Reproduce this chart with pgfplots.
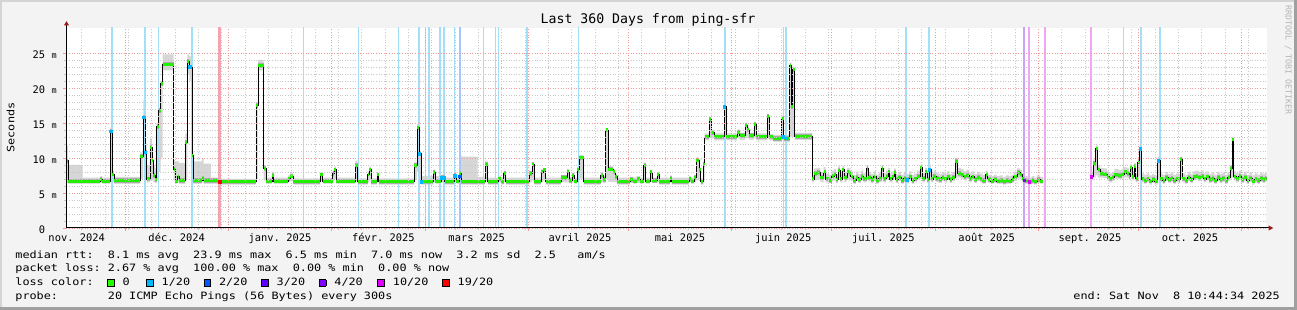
\documentclass[border=0pt]{standalone}
\usepackage{fontspec}
\setmainfont{DejaVu Sans Mono}
\newfontfamily\legfont[FakeStretch=1.17]{DejaVu Sans Mono}
\usepackage{pgfplots}
\usepackage{pgfplotstable}
\pgfplotsset{compat=1.18}

\definecolor{bg}{HTML}{F3F3F3}
\definecolor{edgelight}{HTML}{D4D4D4}
\definecolor{edgedark}{HTML}{A0A0A0}
\definecolor{gridminor}{HTML}{C8C8C8}
\definecolor{gridmajor}{HTML}{F09A9A}
\definecolor{arrowred}{HTML}{A01C1C}
\definecolor{smoke}{HTML}{D6D6D6}
\definecolor{halo}{HTML}{ABABAB}
\definecolor{medgreen}{HTML}{22F000}
\definecolor{l0}{HTML}{26FF00}
\definecolor{l1}{HTML}{00B8FF}
\definecolor{l2}{HTML}{0059FF}
\definecolor{l3}{HTML}{5E00FF}
\definecolor{l4}{HTML}{7E00FF}
\definecolor{l10}{HTML}{DD00FF}
\definecolor{l19}{HTML}{FF0000}
\definecolor{bar1}{HTML}{A3DFF7}
\definecolor{bar2}{HTML}{A8C4FF}
\definecolor{bar4}{HTML}{C6A6F4}
\definecolor{bar10}{HTML}{F1A6F4}
\definecolor{bar19}{HTML}{F4A3B0}
\definecolor{wm}{HTML}{B5B5B5}

\newcommand\legsz{\legfont\fontsize{10.1}{12}\selectfont}
\newcommand\ticksz{\fontsize{10.4}{12}\selectfont}
\newcommand\yl[2]{\makebox[14pt][r]{#1}\makebox[11.7pt][r]{\fontsize{8.5}{9}\selectfont #2}}
\newcommand\lbox[1]{{\setlength\fboxsep{0pt}\setlength\fboxrule{0.9pt}\fcolorbox{black}{#1}{\rule{0pt}{5.7pt}\rule{5.7pt}{0pt}}}}

% x = days from 1 Dec 2024, columns: median, smoke low, smoke high (ms)
\pgfplotstableread{
x med lo hi
-17.55 9.6 6.4 11.8
-17.1 6.7 6.3 9.0
-12.7 6.7 6.3 7.2
-7.4 6.9 6.4 7.4
-6.8 6.7 6.3 7.2
-4.4 13.8 6.6 14.3
-3.9 7.7 6.5 8.2
-3.3 6.8 6.3 7.3
4.6 10.2 7.0 10.8
5.5 15.8 10.0 18.3
6.0 10.8 7.0 12.0
6.5 7.0 6.5 9.0
7.5 11.5 6.8 12.8
8.1 9.7 6.8 10.5
8.5 7.5 6.5 9.0
9.0 6.9 6.4 8.5
9.5 14.5 7.0 15.0
10.1 16.8 8.0 17.2
10.7 20.6 10.0 21.0
11.3 23.4 22.5 24.8
14.6 8.4 6.8 9.7
15.0 6.7 6.3 9.5
15.8 7.3 6.5 9.5
16.2 6.8 6.3 9.3
18.1 12.2 6.8 13.5
18.7 23.8 22.0 24.8
19.3 23.0 21.0 24.5
20.1 10.4 7.0 11.0
20.5 6.8 6.3 9.5
23.1 7.1 6.5 9.9
23.6 6.8 6.3 9.2
25.8 6.8 6.3 7.2
27.8 6.6 6.2 7.0
39.3 17.5 7.0 18.0
39.9 23.2 22.5 24.0
41.6 8.5 6.8 9.0
42.3 6.7 6.3 7.2
44.2 7.5 6.5 8.0
44.6 6.7 6.3 7.2
48.9 7.0 6.5 7.5
49.5 7.4 6.7 7.8
50.5 6.6 6.2 7.1
58.6 7.6 6.7 8.0
59.3 6.7 6.3 7.2
62.3 7.8 6.7 8.2
62.8 8.3 7.0 8.8
63.3 6.7 6.3 7.2
69.1 8.9 6.8 9.6
69.8 6.6 6.2 7.1
72.8 7.7 6.6 8.1
73.3 8.3 6.8 8.8
73.8 6.6 6.2 7.1
75.6 7.6 6.6 8.0
76.1 6.6 6.2 7.1
86.8 8.9 6.8 9.4
87.6 14.3 8.0 14.8
88.2 10.6 7.0 11.0
88.8 6.6 6.2 7.4
92.5 7.9 6.6 8.3
93.1 6.7 6.3 7.4
94.8 7.2 6.5 7.6
95.9 6.6 6.2 7.2
98.8 7.5 6.6 8.0
99.4 6.7 6.3 7.5
100.3 7.8 6.6 10.4
100.9 6.6 6.2 10.2
105.8 6.6 6.2 7.3
108.0 9.1 6.8 9.5
108.8 6.6 6.2 7.2
112.0 7.0 6.5 7.4
112.8 6.6 6.2 7.2
113.6 7.8 6.6 8.1
114.2 6.6 6.2 7.2
121.3 7.8 6.6 8.1
122.2 9.1 6.8 9.4
122.8 6.6 6.2 7.2
124.8 8.0 6.6 8.4
125.5 8.3 6.8 8.6
126.2 6.6 6.2 7.2
130.8 7.2 6.5 7.6
132.6 8.0 6.6 8.4
133.2 6.8 6.4 7.3
134.2 7.5 6.5 7.9
134.8 6.7 6.3 7.2
135.6 8.3 6.6 8.7
136.2 10.0 7.0 10.4
137.6 6.6 6.2 7.2
142.7 7.5 6.5 7.9
143.4 6.9 6.4 7.4
144.2 14.0 7.0 14.2
144.9 8.4 6.6 8.8
146.5 8.0 6.6 8.4
147.0 7.3 6.5 7.7
147.7 6.6 6.2 7.2
151.5 6.9 6.4 7.3
152.5 6.7 6.3 7.2
153.5 7.0 6.4 7.4
154.5 6.7 6.3 7.2
155.6 8.9 6.8 9.3
156.2 6.7 6.3 7.2
157.5 8.0 6.6 8.3
158.1 6.8 6.4 7.2
159.7 7.6 6.5 8.0
160.3 6.6 6.2 7.2
163.5 7.1 6.5 7.5
164.0 6.6 6.2 7.2
169.2 7.0 6.5 7.4
169.8 6.7 6.3 7.2
170.8 7.2 6.5 7.6
171.3 9.7 6.8 10.1
172.2 8.3 6.7 8.7
172.7 6.6 6.2 7.1
173.5 9.1 6.8 9.5
173.9 13.0 12.5 13.5
175.2 15.5 12.8 15.8
175.9 13.6 12.8 14.0
176.7 13.0 12.5 13.5
179.7 17.3 12.8 19.5
180.3 13.0 12.5 13.5
183.6 13.7 12.8 14.1
184.4 13.2 12.6 13.6
186.1 14.7 12.8 15.0
186.7 14.0 12.8 14.4
187.2 13.2 12.6 13.6
188.7 14.8 12.8 15.1
189.3 13.0 12.5 13.5
192.7 15.9 12.8 16.2
193.3 13.0 12.5 13.4
194.5 12.8 12.3 13.3
197.0 15.7 12.6 16.0
197.6 12.8 12.3 13.3
199.4 23.2 13.0 23.6
199.9 17.3 13.0 17.8
200.3 22.6 13.0 23.0
200.9 13.1 12.6 13.6
206.2 7.0 6.5 7.6
206.7 7.8 6.8 8.5
207.7 7.9 6.9 8.6
208.6 7.2 6.6 8.0
209.6 8.0 7.0 8.7
210.2 7.0 6.5 7.8
211.2 6.8 6.4 7.6
212.0 7.4 6.7 8.2
212.7 7.7 6.8 8.4
213.3 6.9 6.4 7.7
213.9 8.2 7.0 8.8
214.5 7.0 6.5 7.8
215.2 8.3 7.0 8.9
215.8 7.2 6.6 8.0
216.6 8.0 6.9 8.6
217.2 7.8 6.8 8.5
217.7 7.3 6.8 8.1
218.4 6.8 6.3 7.6
219.3 7.2 6.7 8.0
220.0 6.9 6.4 7.7
220.8 7.4 6.9 8.2
221.5 7.0 6.5 7.8
222.5 8.5 7.0 9.0
223.0 7.2 6.7 8.0
223.8 6.9 6.4 7.7
224.6 7.3 6.8 8.1
225.3 6.8 6.3 7.6
226.1 7.1 6.6 7.9
227.0 8.5 7.0 9.0
227.5 7.0 6.5 7.8
228.3 7.4 6.9 8.2
228.9 8.0 7.0 8.6
229.4 7.0 6.5 7.8
230.2 7.3 6.8 8.1
230.7 7.9 7.0 8.5
231.2 6.9 6.4 7.7
232.0 7.2 6.7 8.0
232.8 6.8 6.3 7.6
233.6 7.1 6.6 7.9
234.4 6.9 6.4 7.7
235.2 7.3 6.8 8.1
236.0 6.8 6.3 7.6
236.8 7.0 6.5 7.8
237.6 7.4 6.9 8.2
238.6 8.6 7.0 9.1
239.2 7.1 6.6 7.9
240.0 8.0 7.0 8.6
240.6 6.9 6.4 7.7
241.2 8.3 7.0 8.8
241.8 7.0 6.5 7.8
242.5 7.4 6.9 8.2
243.3 7.1 6.6 7.9
244.1 6.9 6.4 7.7
245.0 7.2 6.7 8.0
245.8 7.0 6.5 7.8
246.6 7.3 6.8 8.1
247.4 6.9 6.4 7.7
248.2 7.2 6.7 8.0
249.0 9.5 7.2 10.0
249.8 7.8 7.2 8.6
250.8 7.6 7.0 8.4
251.6 7.3 6.8 8.1
252.4 7.5 7.0 8.3
253.2 7.0 6.5 7.8
254.0 7.3 6.8 8.1
254.8 6.9 6.4 7.7
255.6 7.2 6.7 8.0
256.4 7.0 6.5 7.8
257.2 6.8 6.3 7.6
258.2 7.6 6.8 8.2
258.8 6.9 6.4 7.6
259.7 6.7 6.3 7.4
260.6 6.9 6.4 7.6
261.5 6.7 6.3 7.4
262.4 6.8 6.3 7.5
263.3 6.6 6.2 7.3
264.2 6.8 6.3 7.5
265.1 6.7 6.3 7.4
266.0 6.9 6.4 7.6
266.6 7.3 6.7 8.0
267.6 7.9 7.0 8.5
268.5 7.6 6.9 8.3
269.2 7.0 6.5 7.7
269.6 6.8 6.3 7.4
270.7 6.7 6.3 7.3
271.2 6.6 6.2 7.2
272.0 6.8 6.3 7.4
272.8 6.6 6.2 7.2
273.6 6.9 6.4 7.5
274.5 6.7 6.3 7.3
275.5 6.7 6.3 7.3
}\segA

\pgfplotstableread{
x med lo hi
289.7 7.3 6.8 8.1
290.5 9.2 7.2 9.8
291.2 11.3 7.5 11.8
291.8 8.3 7.2 9.0
292.5 7.8 7.2 8.6
293.5 7.7 7.1 8.5
294.6 7.3 6.8 8.1
295.2 7.0 6.5 7.8
296.2 7.2 6.7 8.0
296.8 7.6 7.0 8.4
298.0 7.5 7.0 8.3
299.2 7.7 7.1 8.5
299.7 8.0 7.2 8.7
300.5 7.8 7.2 8.6
301.2 7.3 6.8 8.1
301.6 8.6 7.2 9.1
302.2 7.3 6.8 8.1
302.8 8.8 7.2 9.3
303.2 7.0 6.5 7.8
303.8 9.4 7.2 9.9
304.4 11.3 7.5 11.9
305.0 7.0 6.5 7.8
305.7 6.8 6.3 7.6
306.5 7.0 6.5 7.8
307.3 6.7 6.2 7.5
308.1 6.9 6.4 7.7
308.9 6.7 6.2 7.5
309.8 9.6 7.0 10.2
310.5 7.0 6.5 7.8
311.3 6.8 6.3 7.6
312.1 7.2 6.7 8.0
312.9 6.9 6.4 7.7
313.7 7.1 6.6 7.9
314.5 6.8 6.3 7.6
315.3 7.0 6.5 7.8
316.1 6.9 6.4 7.7
316.6 9.8 7.0 10.2
317.2 7.0 6.5 7.8
318.0 6.8 6.3 7.6
318.8 7.2 6.7 8.0
319.6 6.9 6.4 7.7
320.4 7.3 6.8 8.1
321.2 7.4 6.9 8.2
322.0 7.2 6.7 8.0
322.8 7.4 6.9 8.2
323.6 7.0 6.5 7.8
324.4 7.3 6.8 8.1
325.2 6.9 6.4 7.7
326.0 7.1 6.6 7.9
326.8 6.8 6.3 7.6
327.6 7.2 6.7 8.0
328.4 6.9 6.4 7.7
329.2 7.1 6.6 7.9
330.0 6.8 6.3 7.6
330.8 7.2 6.7 8.0
331.6 8.5 7.0 9.0
332.1 12.6 7.2 13.0
332.6 7.3 6.8 8.1
333.3 7.0 6.5 7.8
334.1 7.4 6.9 8.2
334.9 6.9 6.4 7.7
335.7 7.2 6.7 8.0
336.5 6.8 6.3 7.6
337.3 7.1 6.6 7.9
338.1 6.7 6.2 7.5
338.9 7.0 6.5 7.8
339.7 6.8 6.3 7.6
340.5 7.1 6.6 7.9
341.3 6.9 6.4 7.7
342.0 7.1 6.6 7.9
342.45 7.1 6.6 7.9
}\segB

\begin{document}
\frenchspacing
\begin{tikzpicture}
% frame
\fill[bg] (-66.5pt,-82pt) rectangle (1230.5pt,228pt);
\fill[edgelight] (-66.5pt,225.5pt) rectangle (1230.5pt,228pt);
\fill[edgelight] (-66.5pt,-82pt) rectangle (-64.5pt,228pt);
\fill[edgedark] (1227.5pt,-82pt) rectangle (1230.5pt,228pt);
\fill[edgedark] (-66.5pt,-82pt) rectangle (1230.5pt,-79pt);

\begin{axis}[
  scale only axis, width=1200pt, height=200pt,
  at={(0pt,0pt)}, anchor=south west,
  xmin=-17.55, xmax=342.45, ymin=0, ymax=28.571,
  axis lines=left, axis line style={-, black, line width=1pt},
  axis on top,
  axis background/.style={fill=white},
  xtick={0,31,62,90,121,151,182,212,243,274,304,335},
  xticklabels={},
  minor xtick={-13,-6,...,337},
  ytick={0,5,...,25},
  minor y tick num=4,
  grid=both,
  major grid style={gridmajor, line width=0.7pt, dash pattern=on 1pt off 1.6pt},
  minor grid style={gridminor, line width=0.6pt, dash pattern=on 1pt off 1.6pt},
  tick align=outside,
  major tick length=3pt, minor tick length=2pt,
  every major tick/.append style={gridmajor, line width=0.8pt},
  every minor tick/.append style={gridminor, line width=0.8pt},
  extra x ticks={-14.5,15.5,46.5,77.5,105.5,136.5,166.5,197.5,227.5,258.5,289.5,319.5},
  extra x tick labels={nov. 2024,déc. 2024,janv. 2025,févr. 2025,mars 2025,avril 2025,mai 2025,juin 2025,juil. 2025,août 2025,sept. 2025,oct. 2025},
  extra x tick style={grid=none, major tick length=0pt, tick style={draw=none}},
  x tick label style={font=\ticksz, anchor=base, inner sep=0pt, yshift=-13.7pt},
  yticklabels={{\yl{0}{}},{\yl{5}{m}},{\yl{10}{m}},{\yl{15}{m}},{\yl{20}{m}},{\yl{25}{m}}},
  y tick label style={font=\ticksz, anchor=east, inner sep=0pt, xshift=-6.5pt, yshift=-1.5pt},
]
% smoke: upper percentile area, then lower percentile cut back to white
\addplot[fill=smoke, draw=none, const plot, mark=none] table[x=x,y=hi]{\segA} \closedcycle;
\addplot[fill=smoke, draw=none, const plot, mark=none] table[x=x,y=hi]{\segB} \closedcycle;
\addplot[fill=white, draw=none, const plot, mark=none] table[x=x,y=lo]{\segA} \closedcycle;
\addplot[fill=white, draw=none, const plot, mark=none] table[x=x,y=lo]{\segB} \closedcycle;

% loss bars
\addplot[ycomb, bar1, line width=1pt, mark=none] coordinates {(10.0,29) (53.6,29) (70.1,29) (82.1,29) (90.0,29) (98.8,29) (107.5,29) (111.0,29) (112.0,29) (135.9,29) (197.4,29) (299.4,29)};
\addplot[ycomb, bar1, line width=2pt, mark=none] coordinates {(-4.0,29) (6.0,29) (20.1,29) (88.3,29) (91.2,29) (94.6,29) (95.6,29) (120.5,29) (179.9,29) (198.4,29) (234.4,29) (241.1,29) (304.9,29) (310.4,29)};
\addplot[ycomb, bar2, line width=2pt, mark=none] coordinates {(100.5,29)};
\addplot[ycomb, bar19, line width=3pt, mark=none] coordinates {(28.5,29)};
\addplot[ycomb, bar4, line width=2pt, mark=none] coordinates {(269.7,29)};
\addplot[ycomb, bar10, line width=2pt, mark=none] coordinates {(271.2,29) (275.9,29) (289.9,29)};

% median
\addplot[halo, line width=4.5pt, jump mark left, mark=none] table[x=x,y=med]{\segA};
\addplot[halo, line width=4.5pt, jump mark left, mark=none] table[x=x,y=med]{\segB};
\addplot[black, line width=0.9pt, const plot, mark=none] table[x=x,y=med]{\segA};
\addplot[black, line width=0.9pt, const plot, mark=none] table[x=x,y=med]{\segB};
\addplot[medgreen, line width=3pt, jump mark left, mark=none] table[x=x,y=med]{\segA};
\addplot[medgreen, line width=3pt, jump mark left, mark=none] table[x=x,y=med]{\segB};

% loss-coloured median points
\addplot[only marks, mark=square*, mark size=1.3pt, l1] coordinates {(-4.2,13.8) (5.6,15.8) (6.1,10.8) (19.4,23.0) (88.3,10.6) (88.9,6.6) (94.9,7.2) (95.6,7.2) (98.9,7.5) (179.8,17.3) (197.3,13.0) (198.3,12.8) (234.5,6.9) (241.3,8.3) (304.5,11.3) (309.9,9.6)};
\addplot[only marks, mark=square*, mark size=1.3pt, l2] coordinates {(100.4,7.4)};
\addplot[only marks, mark=square*, mark size=1.3pt, l4] coordinates {(269.7,6.8)};
\addplot[only marks, mark=square*, mark size=1.3pt, l10] coordinates {(271.3,6.6) (289.8,7.3)};
\addplot[only marks, mark=square*, mark size=1.3pt, l19] coordinates {(28.4,6.6)};
\end{axis}

% axis arrows
\draw[black, line width=1pt] (1200pt,0pt) -- (1203pt,0pt);
\fill[arrowred] (1202.2pt,2.5pt) -- (1206.8pt,0pt) -- (1202.2pt,-2.5pt) -- cycle;
\draw[black, line width=1pt] (0pt,200pt) -- (0pt,203.5pt);
\fill[arrowred] (-2.5pt,202.7pt) -- (0pt,206.9pt) -- (2.5pt,202.7pt) -- cycle;

% title and labels
\node[anchor=base, inner sep=0pt, font=\fontsize{13.2}{15}\selectfont] at (581.5pt,204pt) {Last 360 Days from ping-sfr};
\node[rotate=90, inner sep=0pt, font=\legsz] at (-56pt,100.5pt) {Seconds};
\node[rotate=-90, inner sep=0pt, text=wm, font=\fontsize{8.3}{9}\selectfont] at (1221.8pt,168pt) {RRDTOOL / TOBI OETIKER};

% legend
\node[anchor=base west, inner sep=0pt, font=\legsz] at (-51.3pt,-30.3pt) {median~rtt:~~8.1~ms~avg~~23.9~ms~max~~6.5~ms~min~~7.0~ms~now~~3.2~ms~sd~~2.5~~~am/s};
\node[anchor=base west, inner sep=0pt, font=\legsz] at (-51.3pt,-44pt) {packet~loss:~2.67~\%~avg~~100.00~\%~max~~0.00~\%~min~~0.00~\%~now};
\node[anchor=base west, inner sep=0pt, font=\legsz] at (-51.3pt,-57.7pt) {loss~color:};
\node[anchor=base west, inner sep=0pt, font=\legsz] at (40.5pt,-57.7pt) {\lbox{l0}\hspace{8pt}0};
\node[anchor=base west, inner sep=0pt, font=\legsz] at (79.5pt,-57.7pt) {\lbox{l1}\hspace{8pt}1/20};
\node[anchor=base west, inner sep=0pt, font=\legsz] at (136.8pt,-57.7pt) {\lbox{l2}\hspace{8pt}2/20};
\node[anchor=base west, inner sep=0pt, font=\legsz] at (194.5pt,-57.7pt) {\lbox{l3}\hspace{8pt}3/20};
\node[anchor=base west, inner sep=0pt, font=\legsz] at (252.2pt,-57.7pt) {\lbox{l4}\hspace{8pt}4/20};
\node[anchor=base west, inner sep=0pt, font=\legsz] at (310.7pt,-57.7pt) {\lbox{l10}\hspace{8pt}10/20};
\node[anchor=base west, inner sep=0pt, font=\legsz] at (375.5pt,-57.7pt) {\lbox{l19}\hspace{8pt}19/20};
\node[anchor=base west, inner sep=0pt, font=\legsz] at (-51.3pt,-71.3pt) {probe:~~~~~~~20~ICMP~Echo~Pings~(56~Bytes)~every~300s};
\node[anchor=base east, inner sep=0pt, font=\legsz] at (1213.5pt,-71.3pt) {end:~Sat~Nov~~8~10:44:34~2025};

\pgfresetboundingbox
\path (-66.5pt,-82pt) rectangle (1230.5pt,228pt);
\end{tikzpicture}
\end{document}
